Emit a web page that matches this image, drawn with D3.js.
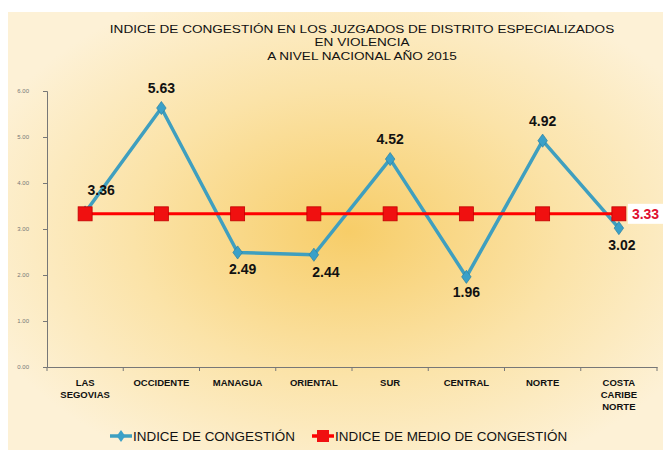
<!DOCTYPE html>
<html>
<head>
<meta charset="utf-8">
<script src="https://cdn.jsdelivr.net/npm/d3@7"></script>
<style>
  html, body { margin: 0; padding: 0; background: #fff; }
  svg { display: block; font-family: "Liberation Sans", Arial, sans-serif; }
</style>
</head>
<body>
<svg id="chart" width="663" height="450"></svg>
<script>
const categories = ["LAS SEGOVIAS", "OCCIDENTE", "MANAGUA", "ORIENTAL", "SUR", "CENTRAL", "NORTE", "COSTA CARIBE NORTE"];
const categoryLines = [["LAS", "SEGOVIAS"], ["OCCIDENTE"], ["MANAGUA"], ["ORIENTAL"], ["SUR"], ["CENTRAL"], ["NORTE"], ["COSTA", "CARIBE", "NORTE"]];
const congestion = [3.36, 5.63, 2.49, 2.44, 4.52, 1.96, 4.92, 3.02];
const averageCongestion = [3.33, 3.33, 3.33, 3.33, 3.33, 3.33, 3.33, 3.33];
const yTicks = [0, 1, 2, 3, 4, 5, 6];
const titleLines = ["INDICE DE CONGESTIÓN  EN LOS JUZGADOS DE DISTRITO ESPECIALIZADOS", "EN VIOLENCIA", "A NIVEL NACIONAL AÑO 2015"];
const seriesNames = ["INDICE DE CONGESTIÓN", "INDICE DE MEDIO DE CONGESTIÓN"];
// where each value label sits relative to its point
const labelPlace = ["upleft", "above", "below", "belowright", "above", "below", "above", "below"];

(function drawChart() {
  const svg = d3.select("#chart");
  const width = 663, height = 450;

  const defs = svg.append("defs");
  const grad = defs.append("radialGradient")
    .attr("id", "bg")
    .attr("cx", "0.52").attr("cy", "0.5").attr("r", "0.6");
  grad.append("stop").attr("offset", "0%").attr("stop-color", "#f7cd68");
  grad.append("stop").attr("offset", "55%").attr("stop-color", "#fbe3a8");
  grad.append("stop").attr("offset", "100%").attr("stop-color", "#fdf1d6");

  svg.append("rect")
    .attr("x", 8).attr("y", 12)
    .attr("width", width - 8).attr("height", height - 12)
    .attr("fill", "url(#bg)");

  const x = d3.scaleBand()
    .domain(categories)
    .range([47, 657]);

  const y = d3.scaleLinear()
    .domain([0, 6])
    .range([367, 91]);

  const cx = d => x(d) + x.bandwidth() / 2;

  // title (stretched horizontally like the original)
  svg.append("g")
    .attr("transform", "translate(362,0) scale(1.18,1)")
    .append("text")
    .attr("x", 0).attr("y", 33)
    .attr("text-anchor", "middle")
    .attr("font-size", "11.5px")
    .attr("fill", "#111")
    .selectAll("tspan")
    .data(titleLines)
    .enter()
    .append("tspan")
    .attr("x", 0)
    .attr("dy", (d, i) => i === 0 ? 0 : 13.5)
    .text(d => d);

  // y axis
  const yAxis = svg.append("g")
    .attr("transform", "translate(47,0)")
    .call(d3.axisLeft(y).tickValues(yTicks).tickFormat(d3.format(".2f")).tickSize(4).tickPadding(14));
  yAxis.select(".domain").attr("stroke", "#777");
  yAxis.selectAll(".tick line").attr("stroke", "#777");
  yAxis.selectAll(".tick text")
    .attr("font-size", "6px")
    .attr("fill", "#777")
    .attr("font-family", "\"Liberation Sans\", Arial, sans-serif");

  // x axis
  const xAxis = svg.append("g")
    .attr("transform", "translate(0,367)")
    .call(d3.axisBottom(x).tickSize(0).tickFormat(""));
  xAxis.select(".domain").attr("stroke", "#777");
  xAxis.selectAll(".tick").remove();

  const boundaries = categories.map(d => x(d)).concat([x.range()[1]]);
  svg.append("g")
    .selectAll("line")
    .data(boundaries)
    .enter()
    .append("line")
    .attr("x1", d => d).attr("x2", d => d)
    .attr("y1", 367).attr("y2", 371)
    .attr("stroke", "#777");

  categories.forEach((c, i) => {
    const t = svg.append("text")
      .attr("x", cx(c)).attr("y", 386)
      .attr("text-anchor", "middle")
      .attr("font-size", "9.5px")
      .attr("font-weight", "bold")
      .attr("fill", "#111");
    categoryLines[i].forEach((line, j) => {
      t.append("tspan")
        .attr("x", cx(c))
        .attr("dy", j === 0 ? 0 : 12)
        .text(line);
    });
  });

  // blue series
  const blue = "#3f9fbf";
  const line = d3.line()
    .x((d, i) => cx(categories[i]))
    .y(d => y(d));

  svg.append("path")
    .datum(congestion)
    .attr("d", line)
    .attr("fill", "none")
    .attr("stroke", blue)
    .attr("stroke-width", 3.5)
    .attr("stroke-linejoin", "round");

  svg.append("g")
    .selectAll("path")
    .data(congestion)
    .enter()
    .append("path")
    .attr("d", d3.symbol().type(d3.symbolDiamond).size(50))
    .attr("transform", (d, i) => `translate(${cx(categories[i])},${y(d)}) scale(1.25,1)`)
    .attr("fill", "#3aa0c8")
    .attr("stroke", "#2a7f9f")
    .attr("stroke-width", 0.6);

  // red series
  const red = "#ff0000";
  svg.append("path")
    .datum(averageCongestion)
    .attr("d", line)
    .attr("fill", "none")
    .attr("stroke", red)
    .attr("stroke-width", 3);

  svg.append("g")
    .selectAll("rect")
    .data(averageCongestion)
    .enter()
    .append("rect")
    .attr("x", (d, i) => cx(categories[i]) - 7)
    .attr("y", d => y(d) - 7)
    .attr("width", 14).attr("height", 14)
    .attr("fill", "#f01010")
    .attr("stroke", "#c00000")
    .attr("stroke-width", 0.8);

  // value labels
  const offsets = {
    upleft: [16, -17],
    above: [0, -15],
    below: [5, 22],
    belowright: [12, 22]
  };
  svg.append("g")
    .selectAll("text")
    .data(congestion)
    .enter()
    .append("text")
    .attr("x", (d, i) => cx(categories[i]) + offsets[labelPlace[i]][0] + (i === 5 ? -5 : 0) + (i === 7 ? -2 : 0))
    .attr("y", (d, i) => y(d) + offsets[labelPlace[i]][1] + (i === 5 ? -2 : 0))
    .attr("text-anchor", "middle")
    .attr("font-size", "14px")
    .attr("font-weight", "bold")
    .attr("fill", "#111")
    .text(d => d.toFixed(2));

  // red label
  const last = averageCongestion.length - 1;
  const rx = cx(categories[last]) + 9;
  const ry = y(averageCongestion[last]);
  svg.append("rect")
    .attr("x", rx).attr("y", ry - 10)
    .attr("width", 45).attr("height", 20)
    .attr("fill", "#fff");
  svg.append("text")
    .attr("x", rx + 4).attr("y", ry + 5)
    .attr("font-size", "14px")
    .attr("font-weight", "bold")
    .attr("fill", "#e01030")
    .text(averageCongestion[last].toFixed(2));

  // legend
  const legend = svg.append("g").attr("transform", "translate(0,436)");
  const items = [
    { name: seriesNames[0], color: blue, kind: "diamond", x: 110 },
    { name: seriesNames[1], color: red, kind: "square", x: 312 }
  ];
  items.forEach(it => {
    const g = legend.append("g").attr("transform", `translate(${it.x},0)`);
    g.append("line")
      .attr("x1", 0).attr("x2", 22)
      .attr("stroke", it.color)
      .attr("stroke-width", 3.5);
    if (it.kind === "diamond") {
      g.append("path")
        .attr("d", d3.symbol().type(d3.symbolDiamond).size(40))
        .attr("transform", "translate(11,0) scale(1.25,1)")
        .attr("fill", "#3aa0c8");
    } else {
      g.append("rect")
        .attr("x", 5).attr("y", -6)
        .attr("width", 12).attr("height", 12)
        .attr("fill", "#f01010");
    }
    g.append("g")
      .attr("transform", "translate(23,0) scale(1.12,1)")
      .append("text")
      .attr("x", 0).attr("y", 4.5)
      .attr("font-size", "12px")
      .attr("fill", "#111")
      .text(it.name);
  });
})();
</script>
</body>
</html>
